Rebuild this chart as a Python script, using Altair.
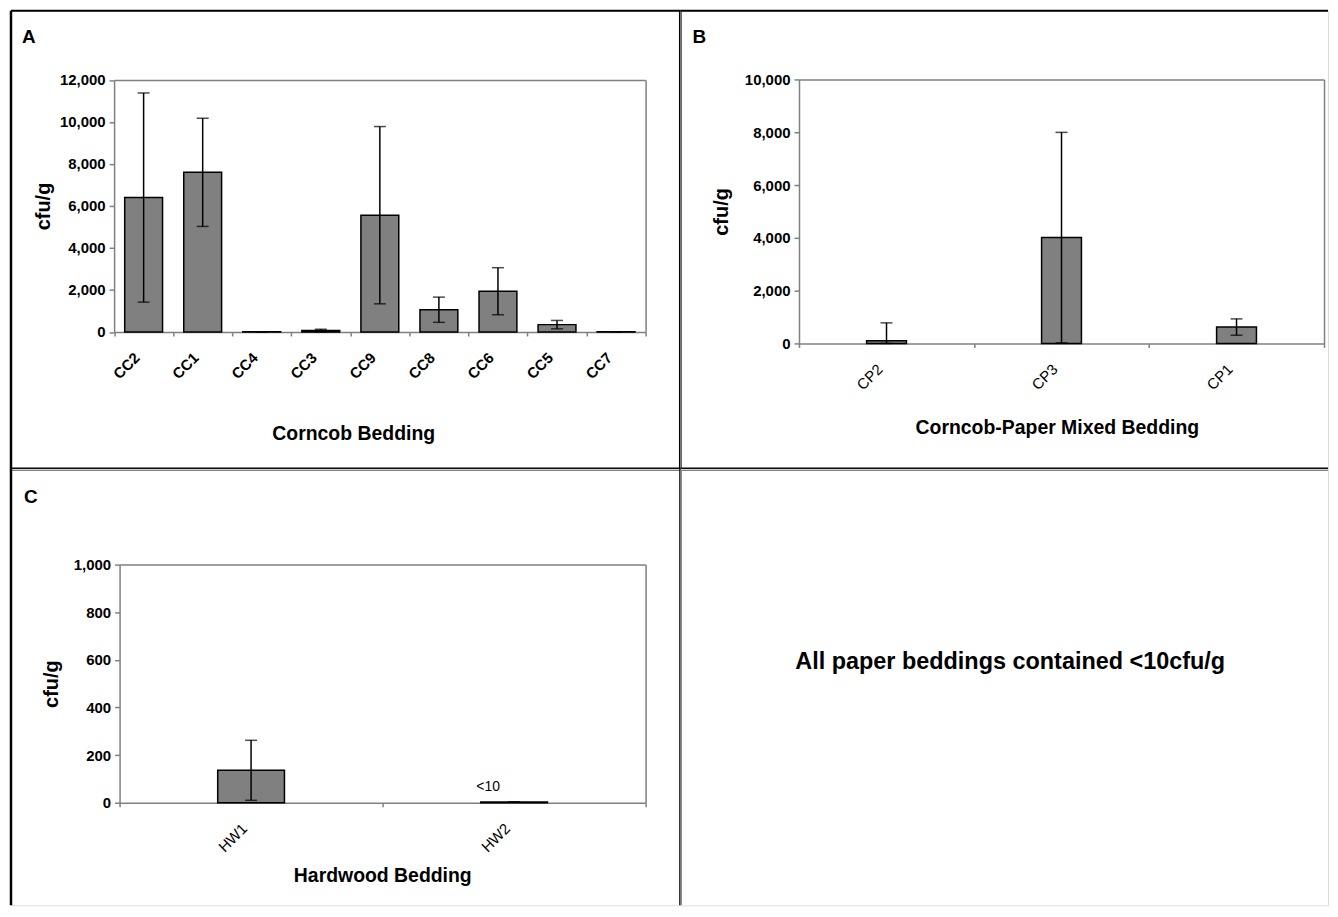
import altair as alt
import pandas as pd

FONT = "Liberation Sans"
GRAY_AX = "#808080"
BAR_FILL = "#808080"

# ---- data ----
cc_names = ["CC2", "CC1", "CC4", "CC3", "CC9", "CC8", "CC6", "CC5", "CC7"]
cc_means = [6400, 7600, 10, 70, 5560, 1060, 1940, 350, 10]
cc_errs = [4980, 2575, 0, 60, 4220, 600, 1120, 200, 0]

cp_names = ["CP2", "CP3", "CP1"]
cp_means = [100, 4010, 620]
cp_errs = [680, 3985, 310]

hw_names = ["HW1", "HW2"]
hw_means = [136, 3]
hw_errs = [126, 0]
hw_notes = ["", "<10"]

y_title = "cfu/g"
d_text = "All paper beddings contained <10cfu/g"


def border(kind, pos, length, width=2.5):
    d = alt.Chart(pd.DataFrame({"k": [0]}))
    m = d.mark_rule(color="black", strokeWidth=width)
    if kind == "v":
        return m.encode(x=alt.value(pos), y=alt.value(0), y2=alt.value(length))
    return m.encode(y=alt.value(pos), x=alt.value(0), x2=alt.value(length))


def panel(names, means, errs, ymax, ystep, W, H, px0, px1, py0, py1, bar_w,
          letter, lx, ly, xtitle, xt_x, xt_y, yt_x, label_weight,
          borders, notes=None):
    df = pd.DataFrame({"name": names, "mean": means, "err": errs})
    df["hi"] = df["mean"] + df["err"]
    df["lo"] = df["mean"] - df["err"]
    if notes is not None:
        df["note"] = notes
    xs = alt.Scale(domain=names, range=[px0, px1], paddingInner=0, paddingOuter=0)
    ys = alt.Scale(domain=[0, ymax], range=[py1, py0], nice=False, clamp=True, zero=True)
    base = alt.Chart(df)

    x_axis = alt.Axis(
        orient="bottom", offset=-(H - py1), tickBand="extent", tickSize=4,
        tickColor=GRAY_AX, tickWidth=1.5, domainColor=GRAY_AX, domainWidth=1.5,
        labelAngle=315, labelAlign="right", labelBaseline="middle",
        labelOffset=-7, labelPadding=19, labelOverlap=False,
        labelFont=FONT, labelFontSize=15, labelFontWeight=label_weight,
        labelColor="black", grid=False,
        title=xtitle, titleX=xt_x, titleY=xt_y, titleAlign="center",
        titleBaseline="alphabetic", titleFont=FONT, titleFontSize=19.5,
        titleFontWeight="bold", titleColor="black")
    y_axis = alt.Axis(
        orient="left", offset=-px0, values=list(range(0, ymax + 1, ystep)),
        format=",.0f", tickSize=5, tickColor=GRAY_AX, tickWidth=1.5,
        domainColor=GRAY_AX, domainWidth=1.5, labelFont=FONT, labelFontSize=15,
        labelFontWeight="bold", labelColor="black", labelPadding=4, grid=False,
        title=y_title, titleX=yt_x, titleY=(py0 + py1) / 2, titleAngle=270,
        titleAlign="center", titleBaseline="middle", titleFont=FONT,
        titleFontSize=20, titleFontWeight="bold", titleColor="black")
    top_axis = alt.Axis(orient="top", offset=-py0, labels=False, ticks=False,
                        title=None, domainColor=GRAY_AX, domainWidth=1.5, grid=False)
    right_axis = alt.Axis(orient="right", offset=-(W - px1), labels=False, ticks=False,
                          title=None, domainColor=GRAY_AX, domainWidth=1.5, grid=False)

    bars = base.mark_bar(size=bar_w, fill=BAR_FILL, stroke="black", strokeWidth=1.5).encode(
        x=alt.X("name:N", scale=xs, axis=x_axis),
        y=alt.Y("mean:Q", scale=ys, axis=y_axis))
    rules = base.mark_rule(color="black", strokeWidth=1.5).encode(
        x=alt.X("name:N", scale=xs, axis=top_axis),
        y=alt.Y("lo:Q", scale=ys, axis=right_axis),
        y2="hi:Q")
    cap_hi = base.mark_tick(color="black", size=12, thickness=1.5).encode(
        x=alt.X("name:N", scale=xs, axis=None),
        y=alt.Y("hi:Q", scale=ys, axis=None))
    cap_lo = base.mark_tick(color="black", size=12, thickness=1.5).encode(
        x=alt.X("name:N", scale=xs, axis=None),
        y=alt.Y("lo:Q", scale=ys, axis=None))
    layers = [bars, rules, cap_hi, cap_lo]
    if notes is not None:
        layers.append(base.mark_text(font=FONT, fontSize=14, color="black",
                                     align="center", baseline="alphabetic",
                                     dx=-26, dy=-11).encode(
            x=alt.X("name:N", scale=xs, axis=None),
            y=alt.Y("mean:Q", scale=ys, axis=None),
            text="note:N"))
    lt = alt.Chart(pd.DataFrame({"t": [letter]})).mark_text(
        font=FONT, fontSize=19, fontWeight="bold", color="black",
        align="left", baseline="alphabetic").encode(
        x=alt.value(lx), y=alt.value(ly), text="t:N")
    layers.append(lt)
    layers.extend(borders)
    return alt.layer(*layers).resolve_axis(x="independent", y="independent").properties(
        width=W, height=H)


W1, W2 = 672, 650
H1, H2 = 460, 438

pa = panel(cc_names, cc_means, cc_errs, 12000, 2000, W1, H1,
           103.5, 637, 69.5, 322.5, 38,
           "A", 11, 32, "Corncob Bedding", 343.5, 107.5, -71, "bold",
           [border("v", 0, H1), border("h", 0, W1, 2),
            border("v", W1, H1, 3), border("h", H1, W1, 3)])

pb = panel(cp_names, cp_means, cp_errs, 10000, 2000, W2, H1,
           119, 646, 69, 334, 40,
           "B", 12, 32, "Corncob-Paper Mixed Bedding", 377.8, 90, -78, "normal",
           [border("h", 0, W2, 2), border("h", H1, W2, 3)])

pc = panel(hw_names, hw_means, hw_errs, 1000, 200, W1, H2,
           109, 637, 96, 335, 67,
           "C", 13, 34, "Hardwood Bedding", 372.7, 79, -68, "normal",
           [border("v", 0, H2), border("v", W1, H2, 2.5)], notes=hw_notes)

pd_ = alt.Chart(pd.DataFrame({"t": [d_text]})).mark_text(
    font=FONT, fontSize=23.5, fontWeight="bold", color="black",
    align="center", baseline="middle").encode(
    x=alt.value(331), y=alt.value(194), text="t:N").properties(width=W2, height=H2)

chart = alt.concat(pa, pb, pc, pd_, columns=2, spacing=0, bounds="flush").properties(
    padding={"left": -3, "top": -1, "right": 0, "bottom": 0}
).configure_view(stroke=None).configure(font=FONT, background="white")

chart.save("out.html", embed_options={"renderer": "svg", "actions": False})
